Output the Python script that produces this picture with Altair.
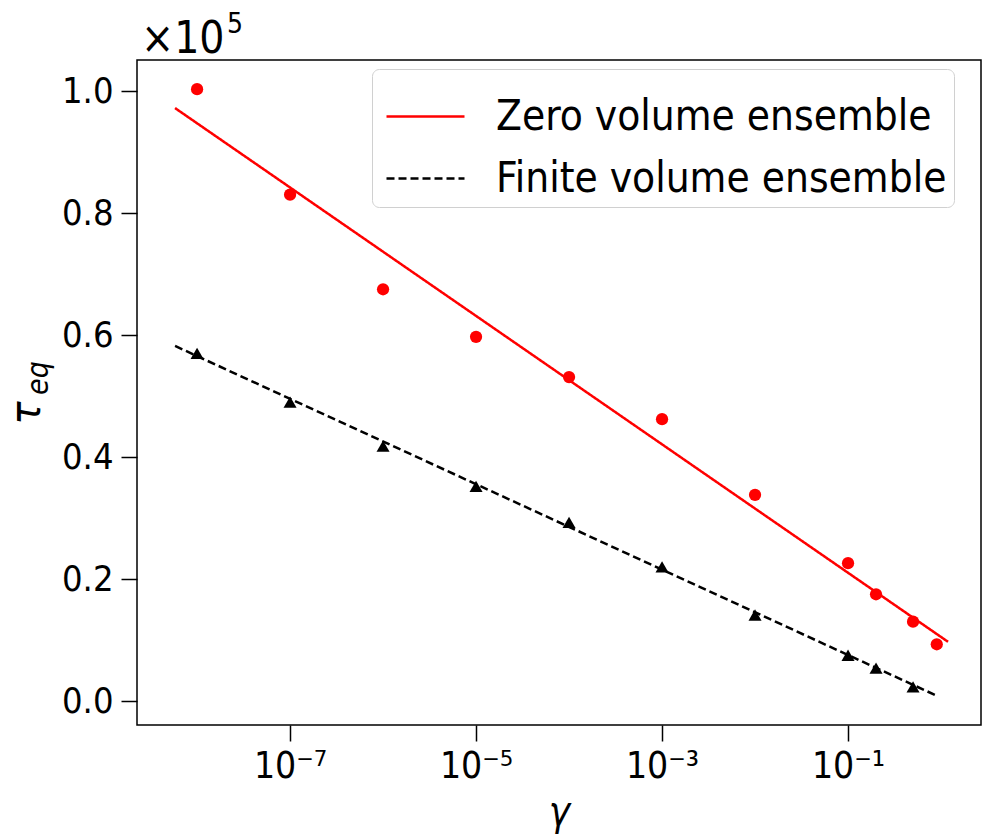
import altair as alt
import pandas as pd

# ---- data ----
gamma_zero = [1e-8, 1e-7, 1e-6, 1e-5, 1e-4, 1e-3, 1e-2, 1e-1, 0.2, 0.5, 0.9]
tau_zero = [100300, 83000, 67500, 59700, 53100, 46200, 33800, 22600, 17500, 13000, 9300]

gamma_finite = [1e-8, 1e-7, 1e-6, 1e-5, 1e-4, 1e-3, 1e-2, 1e-1, 0.2, 0.5]
tau_finite = [57000, 49000, 41800, 35200, 29300, 22000, 14100, 7500, 5400, 2300]

fit_gamma_zero = [5.8e-9, 1.19]
fit_tau_zero = [97200, 9700]
fit_gamma_finite = [5.8e-9, 0.86]
fit_tau_finite = [58200, 1000]

series_names = ["Zero volume ensemble", "Finite volume ensemble"]
x_ticks = [1e-7, 1e-5, 1e-3, 1e-1]
y_ticks = [0, 20000, 40000, 60000, 80000, 100000]

FONT = "DejaVu Sans Condensed, DejaVu Sans"

pts_zero = pd.DataFrame({"gamma": gamma_zero, "tau": tau_zero})
pts_finite = pd.DataFrame({"gamma": gamma_finite, "tau": tau_finite})
fits = pd.DataFrame({
    "gamma": fit_gamma_zero + fit_gamma_finite,
    "tau": fit_tau_zero + fit_tau_finite,
    "series": [series_names[0]] * 2 + [series_names[1]] * 2,
})

xscale = alt.Scale(type="log", domain=[2.26e-9, 2.69], nice=False)
yscale = alt.Scale(domain=[-3934, 105082], nice=False, zero=False)

xaxis = alt.Axis(
    values=x_ticks,
    labelExpr="datum.value < 1e-6 ? '10⁻⁷' : datum.value < 1e-4 ? '10⁻⁵' : datum.value < 1e-2 ? '10⁻³' : '10⁻¹'",
    title="γ", titleFontStyle="italic", titleFontWeight="normal", titleFontSize=40,
    titlePadding=8,
    labelFontSize=37, labelPadding=7, tickSize=16, tickWidth=1.5, tickColor="black",
    labelColor="black", grid=False, domain=False, labelFlush=False,
)
yaxis = alt.Axis(
    values=y_ticks,
    labelExpr="format(datum.value / 100000, '.1f')",
    title=None,
    labelFontSize=36, labelPadding=8, tickSize=16, tickWidth=1.5, tickColor="black",
    labelColor="black", grid=False, domain=False,
)

x = alt.X("gamma:Q", scale=xscale, axis=xaxis)
y = alt.Y("tau:Q", scale=yscale, axis=yaxis)

leg = alt.Legend(title=None, labelExpr="datum.label + '\u00a0'")

lines = alt.Chart(fits).mark_line(strokeWidth=2.5, clip=True).encode(
    x=x, y=y,
    color=alt.Color("series:N", scale=alt.Scale(domain=series_names, range=["#ff0000", "#000000"]),
                    legend=leg),
    strokeDash=alt.StrokeDash("series:N", scale=alt.Scale(domain=series_names, range=[[1, 0], [8, 4]]),
                              legend=leg),
)

red_pts = alt.Chart(pts_zero).mark_point(shape="circle", filled=True, size=150, color="#ff0000", opacity=1).encode(
    x=alt.X("gamma:Q", scale=xscale), y=alt.Y("tau:Q", scale=yscale))
blk_pts = alt.Chart(pts_finite).mark_point(shape="triangle-up", filled=True, size=170, color="#000000", opacity=1).encode(
    x=alt.X("gamma:Q", scale=xscale), y=alt.Y("tau:Q", scale=yscale))

txt = pd.DataFrame({"k": [0]})
tau_lbl = alt.Chart(txt).mark_text(text="τ", angle=270, fontSize=43, fontStyle="italic", font=FONT,
                                   align="center", baseline="middle", color="black").encode(
    x=alt.value(-110), y=alt.value(353))
eq_lbl = alt.Chart(txt).mark_text(text="eq", angle=270, fontSize=30, fontStyle="italic", font=FONT,
                                  align="center", baseline="middle", color="black").encode(
    x=alt.value(-98), y=alt.value(318))
mult = alt.Chart(txt).mark_text(text="×10", fontSize=44, font=FONT, align="left", baseline="alphabetic",
                                color="black").encode(x=alt.value(4), y=alt.value(-7))
expo = alt.Chart(txt).mark_text(text="5", fontSize=28, font=FONT, align="left", baseline="alphabetic",
                                color="black").encode(x=alt.value(90), y=alt.value(-27))

chart = alt.layer(lines, red_pts, blk_pts, tau_lbl, eq_lbl, mult, expo).properties(
    width=844, height=665,
    autosize=alt.AutoSizeParams(type="none"),
    padding={"left": 137, "top": 60, "right": 4, "bottom": 112},
).configure(font=FONT, background="white").configure_view(
    stroke="black", strokeWidth=1.5
).configure_legend(
    orient="none", legendX=235, legendY=9,
    fillColor="white", strokeColor="#d0d0d0", cornerRadius=7, padding=7,
    labelFontSize=42, labelColor="black", labelFont=FONT, labelLimit=800,
    symbolType="stroke", symbolSize=6084, symbolStrokeWidth=2.5, symbolOffset=6,
    labelOffset=30, rowPadding=-16,
)

chart.save("out.html", embed_options={"renderer": "svg", "actions": False})
